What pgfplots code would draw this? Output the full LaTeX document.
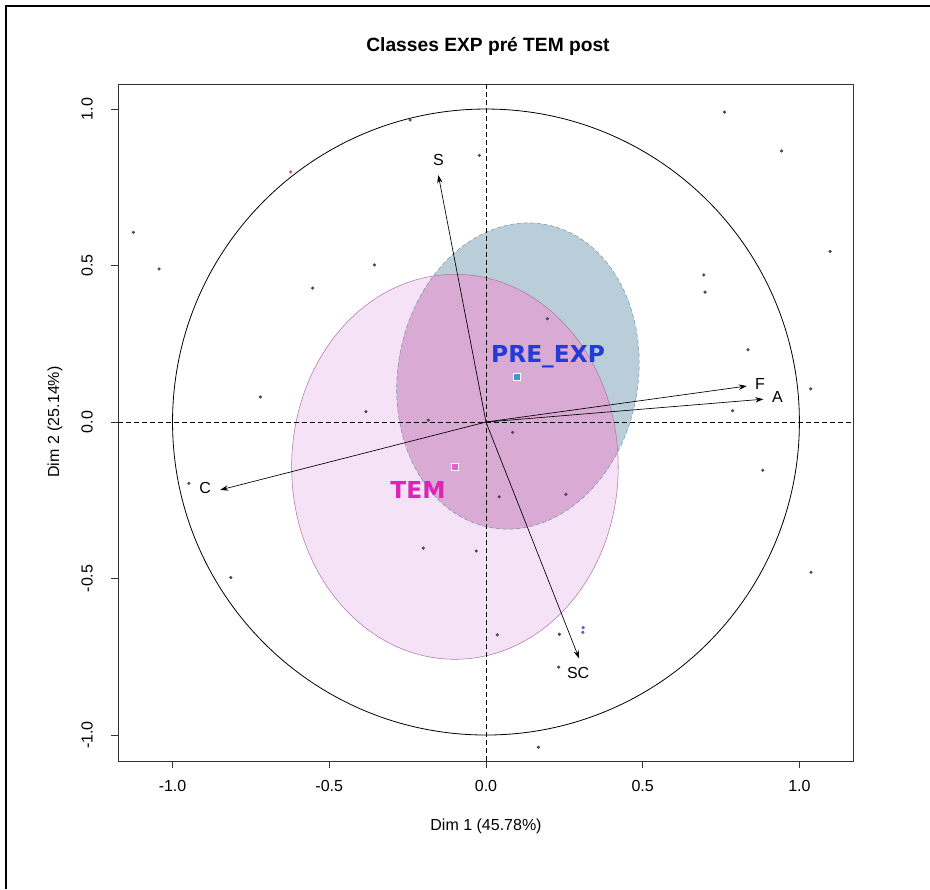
\documentclass[border=0pt]{standalone}
\usepackage{fontspec}
\setmainfont{Liberation Sans}
\newfontfamily\labfont{DejaVu Sans}
\usepackage{pgfplots}
\pgfplotsset{compat=1.18}
\usetikzlibrary{arrows.meta}

\definecolor{preblue}{RGB}{186,206,218}
\definecolor{preedge}{RGB}{120,150,170}
\definecolor{temlight}{RGB}{246,226,246}
\definecolor{temedge}{RGB}{170,120,165}
\definecolor{overlap}{RGB}{216,170,212}
\definecolor{prelab}{RGB}{35,60,215}
\definecolor{temlab}{RGB}{222,35,182}
\definecolor{dotgray}{RGB}{75,75,75}

\begin{document}
\begin{tikzpicture}
\useasboundingbox (0,0) rectangle (697.5pt,666.75pt);
\draw[line width=1.1pt] (4.5pt,0) -- (4.5pt,662.25pt) -- (697.5pt,662.25pt);

\begin{axis}[
  at={(88.5pt,96pt)}, anchor=south west,
  scale only axis, width=551.25pt, height=507.75pt,
  xmin=-1.174, xmax=1.171, ymin=-1.083, ymax=1.080,
  axis line style={line width=0.6pt, black!80},
  xtick={-1,-0.5,0,0.5,1}, ytick={-1,-0.5,0,0.5,1},
  tick pos=left, tick align=outside, major tick length=5.25pt,
  tick style={black!80, line width=0.6pt},
  tick label style={font=\fontsize{12}{14}\selectfont, inner sep=0pt},
  xticklabel style={yshift=-9pt},
  yticklabel style={rotate=90, anchor=south, yshift=13.5pt},
  /pgf/number format/.cd, fixed, fixed zerofill, precision=1, assume math mode=true,
]

% confidence ellipses
\fill[temlight] (axis cs:-0.099,-0.143) ellipse [x radius=0.521, y radius=0.615];
\fill[preblue, rotate around={-10:(axis cs:0.102,0.147)}] (axis cs:0.102,0.147) ellipse [x radius=0.383, y radius=0.492];
\begin{scope}
\clip[rotate around={-10:(axis cs:0.102,0.147)}] (axis cs:0.102,0.147) ellipse [x radius=0.383, y radius=0.492];
\fill[overlap] (axis cs:-0.099,-0.143) ellipse [x radius=0.521, y radius=0.615];
\end{scope}
\draw[temedge, line width=0.4pt] (axis cs:-0.099,-0.143) ellipse [x radius=0.521, y radius=0.615];
\draw[preedge, line width=0.4pt, dash pattern=on 3pt off 2pt, rotate around={-10:(axis cs:0.102,0.147)}] (axis cs:0.102,0.147) ellipse [x radius=0.383, y radius=0.492];

% unit circle and axes through the origin
\draw[black, line width=0.6pt] (axis cs:0,0) circle [radius=1];
\addplot[black, line width=0.6pt, dash pattern=on 3.5pt off 2.5pt] coordinates {(-1.174,0) (1.171,0)};
\addplot[black, line width=0.6pt, dash pattern=on 3.5pt off 2.5pt] coordinates {(0,-1.083) (0,1.080)};

% individuals
\addplot[only marks, mark=*, mark size=1pt, dotgray] coordinates {
(-1.125,0.606) (-1.043,0.489) (-0.242,0.965) (-0.021,0.852)
(-0.356,0.502) (-0.553,0.428) (-0.720,0.080) (-0.383,0.033) (-0.184,0.006)
(0.761,0.990) (0.943,0.866) (1.098,0.545) (0.695,0.470) (0.699,0.415)
(0.836,0.231) (1.036,0.106) (0.787,0.036) (0.196,0.330)
(-0.948,-0.196) (-0.814,-0.497) (-0.200,-0.403) (-0.031,-0.412)
(0.883,-0.154) (1.037,-0.480) (0.085,-0.033) (0.042,-0.239) (0.255,-0.231)
(0.036,-0.680) (0.234,-0.678) (0.232,-0.783) (0.167,-1.039)
};
\addplot[only marks, mark=*, mark size=1pt, color={rgb,255:red,200;green,90;blue,110}] coordinates {(-0.623,0.799)};
\addplot[only marks, mark=*, mark size=1pt, color={rgb,255:red,90;green,90;blue,200}] coordinates {(0.310,-0.657) (0.309,-0.672)};

% variables
\addplot[black, line width=0.5pt, -{Stealth[length=6pt, width=4pt]}] coordinates {(0,0) (-0.152,0.789)};
\addplot[black, line width=0.5pt, -{Stealth[length=6pt, width=4pt]}] coordinates {(0,0) (0.832,0.115)};
\addplot[black, line width=0.5pt, -{Stealth[length=6pt, width=4pt]}] coordinates {(0,0) (0.885,0.073)};
\addplot[black, line width=0.5pt, -{Stealth[length=6pt, width=4pt]}] coordinates {(0,0) (-0.848,-0.217)};
\addplot[black, line width=0.5pt, -{Stealth[length=6pt, width=4pt]}] coordinates {(0,0) (0.297,-0.755)};
\addplot[draw=none, mark=none, nodes near coords, point meta=explicit symbolic,
  every node near coord/.append style={anchor=center, inner sep=0pt, font=\fontsize{12}{14}\selectfont}]
  table[meta=lab] {
x y lab
-0.152 0.838 S
0.874 0.121 F
0.930 0.081 A
-0.896 -0.212 C
0.294 -0.801 SC
};

% group centres
\addplot[only marks, mark=square*, mark size=2.6pt, mark options={fill={rgb,255:red,60;green,150;blue,220}, draw=white, line width=0.6pt}] coordinates {(0.100,0.145)};
\addplot[only marks, mark=square*, mark size=2.6pt, mark options={fill={rgb,255:red,225;green,100;blue,205}, draw=white, line width=0.6pt}] coordinates {(-0.099,-0.143)};
\addplot[draw=none, mark=none, nodes near coords, point meta=explicit symbolic,
  every node near coord/.append style={anchor=center, inner sep=0pt, text=prelab, font=\labfont\bfseries\fontsize{17.5}{20}\selectfont}]
  table[meta=lab] {
x y lab
0.198 0.208 PRE\_EXP
};
\addplot[draw=none, mark=none, nodes near coords, point meta=explicit symbolic,
  every node near coord/.append style={anchor=center, inner sep=0pt, text=temlab, font=\labfont\bfseries\fontsize{17.5}{20}\selectfont}]
  table[meta=lab] {
x y lab
-0.217 -0.217 TEM
};
\end{axis}

\node[font=\bfseries\fontsize{14.4}{17}\selectfont] at (366pt,632.25pt) {Classes EXP pré TEM post};
\node[font=\fontsize{12}{14}\selectfont] at (364.5pt,47.25pt) {Dim 1 (45.78\%)};
\node[font=\fontsize{12}{14}\selectfont, rotate=90] at (41.25pt,350.25pt) {Dim 2 (25.14\%)};
\end{tikzpicture}
\end{document}
